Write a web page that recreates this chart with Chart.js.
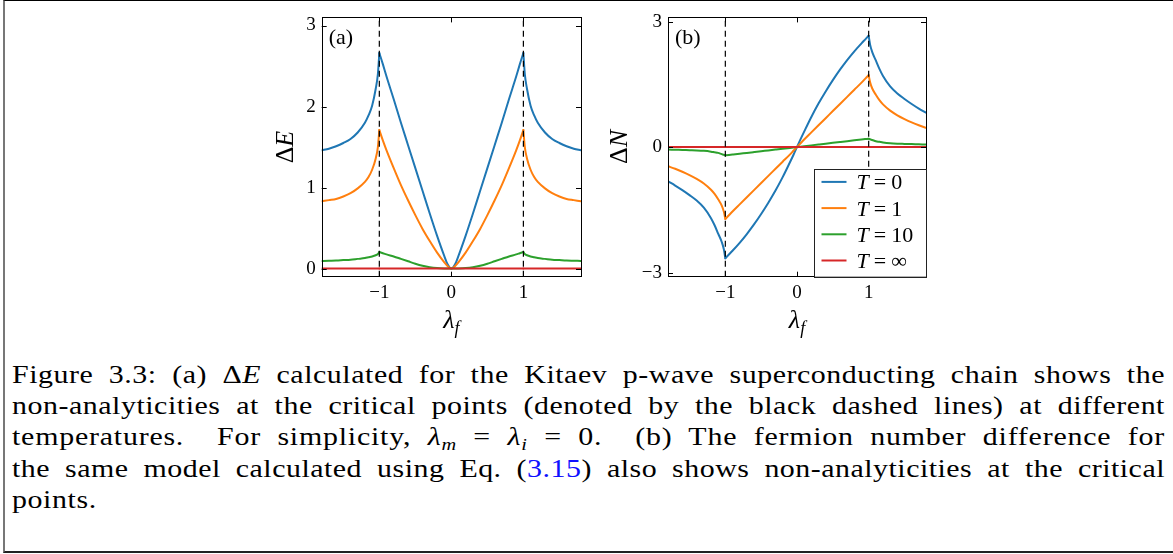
<!DOCTYPE html>
<html>
<head>
<meta charset="utf-8">
<script src="https://cdn.jsdelivr.net/npm/chart.js@4.4.1/dist/chart.umd.min.js"></script>
<style>
  html, body { margin: 0; padding: 0; background: #fff; }
  body { width: 1173px; height: 554px; position: relative; overflow: hidden; }
  #frame { position: absolute; left: 3px; top: 0; width: 1200px; height: 550px;
           border-top: 1px solid #000; border-left: 2px solid #777; border-bottom: 2px solid #222; }
  canvas { position: absolute; top: 0; }
  #caption { position: absolute; left: 12px; top: 359px; width: 1153px;
             font-family: "Liberation Serif", "Tinos", "Times New Roman", "DejaVu Serif", serif; font-size: 26px;
             line-height: 31.2px; color: #000; }
  .ln { height: 31.2px; text-align: left; text-align-last: left; transform-origin: 0 0; }
  .ln.just { text-align: justify; text-align-last: justify; }
  .sub { font-size: 0.68em; font-style: italic; position: relative; top: 0.28em; }
  .ref { color: #1010ff; }
</style>
</head>
<body>
<div id="frame"></div>
<canvas id="panelA" width="330" height="345" style="left:270px"></canvas>
<canvas id="panelB" width="346" height="345" style="left:600px"></canvas>
<div id="caption">
  <div class="ln"><span class="in">Figure 3.3: (a) Δ<i>E</i> calculated for the Kitaev p-wave superconducting chain shows the</span></div>
  <div class="ln"><span class="in">non-analyticities at the critical points (denoted by the black dashed lines) at different</span></div>
  <div class="ln"><span class="in">temperatures.&nbsp; For simplicity, <i>λ</i><span class="sub">m</span> = <i>λ</i><span class="sub">i</span> = 0.&nbsp; (b) The fermion number difference for</span></div>
  <div class="ln"><span class="in">the same model calculated using Eq. (<span class="ref">3.15</span>) also shows non-analyticities at the critical</span></div>
  <div class="ln last"><span class="in">points.</span></div>
</div>
<script>
// lambda_f samples (denser near the critical points)
const lambdaF = [-1.8, -1.7, -1.6, -1.5, -1.4, -1.3, -1.2, -1.15, -1.1, -1.05, -1.02, -1.0,
  -0.95, -0.9, -0.8, -0.7, -0.6, -0.5, -0.4, -0.3, -0.2, -0.1, -0.05, 0,
  0.05, 0.1, 0.2, 0.3, 0.4, 0.5, 0.6, 0.7, 0.8, 0.9, 0.95, 1.0,
  1.02, 1.05, 1.1, 1.15, 1.2, 1.3, 1.4, 1.5, 1.6, 1.7, 1.8];

// (a) Delta E
const dE_T0 = [1.46, 1.48, 1.51, 1.55, 1.60, 1.68, 1.80, 1.89, 2.01, 2.22, 2.40, 2.66,
  2.52, 2.37, 2.09, 1.80, 1.52, 1.24, 0.96, 0.68, 0.41, 0.16, 0.05, 0,
  0.05, 0.16, 0.41, 0.68, 0.96, 1.24, 1.52, 1.80, 2.09, 2.37, 2.52, 2.66,
  2.40, 2.22, 2.01, 1.89, 1.80, 1.68, 1.60, 1.55, 1.51, 1.48, 1.46];
const dE_T1 = [0.83, 0.845, 0.86, 0.89, 0.93, 0.99, 1.07, 1.13, 1.22, 1.36, 1.50, 1.71,
  1.58, 1.46, 1.24, 1.03, 0.84, 0.66, 0.49, 0.34, 0.20, 0.08, 0.03, 0,
  0.03, 0.08, 0.20, 0.34, 0.49, 0.66, 0.84, 1.03, 1.24, 1.46, 1.58, 1.71,
  1.50, 1.36, 1.22, 1.13, 1.07, 0.99, 0.93, 0.89, 0.86, 0.845, 0.83];
const dE_T10 = [0.094, 0.097, 0.10, 0.105, 0.11, 0.12, 0.13, 0.14, 0.15, 0.165, 0.18, 0.205,
  0.19, 0.175, 0.15, 0.12, 0.09, 0.06, 0.035, 0.017, 0.006, 0.001, 0, 0,
  0, 0.001, 0.006, 0.017, 0.035, 0.06, 0.09, 0.12, 0.15, 0.175, 0.19, 0.205,
  0.18, 0.165, 0.15, 0.14, 0.13, 0.12, 0.11, 0.105, 0.10, 0.097, 0.094];
const dE_Tinf = [0, 0, 0, 0, 0, 0, 0, 0, 0, 0, 0, 0, 0, 0, 0, 0, 0, 0, 0, 0, 0, 0, 0, 0,
  0, 0, 0, 0, 0, 0, 0, 0, 0, 0, 0, 0, 0, 0, 0, 0, 0, 0, 0, 0, 0, 0, 0];

// (b) Delta N
const dN_T0 = [-0.82, -0.92, -1.03, -1.15, -1.28, -1.45, -1.70, -1.87, -2.07, -2.27, -2.45, -2.66,
  -2.57, -2.48, -2.29, -2.08, -1.85, -1.60, -1.33, -1.04, -0.72, -0.37, -0.19, 0,
  0.19, 0.37, 0.72, 1.04, 1.33, 1.60, 1.85, 2.08, 2.29, 2.48, 2.57, 2.66,
  2.45, 2.27, 2.07, 1.87, 1.70, 1.45, 1.28, 1.15, 1.03, 0.92, 0.82];
const dN_T1 = [-0.46, -0.52, -0.59, -0.67, -0.76, -0.87, -1.02, -1.12, -1.25, -1.40, -1.55, -1.72,
  -1.63, -1.54, -1.37, -1.20, -1.03, -0.86, -0.69, -0.52, -0.35, -0.18, -0.09, 0,
  0.09, 0.18, 0.35, 0.52, 0.69, 0.86, 1.03, 1.20, 1.37, 1.54, 1.63, 1.72,
  1.55, 1.40, 1.25, 1.12, 1.02, 0.87, 0.76, 0.67, 0.59, 0.52, 0.46];
const dN_T10 = [-0.06, -0.065, -0.07, -0.075, -0.08, -0.09, -0.11, -0.125, -0.14, -0.17, -0.185, -0.20,
  -0.19, -0.18, -0.16, -0.14, -0.12, -0.10, -0.08, -0.06, -0.04, -0.02, -0.01, 0,
  0.01, 0.02, 0.04, 0.06, 0.08, 0.10, 0.12, 0.14, 0.16, 0.18, 0.19, 0.20,
  0.185, 0.17, 0.14, 0.125, 0.11, 0.09, 0.08, 0.075, 0.07, 0.065, 0.06];
const dN_Tinf = [0, 0, 0, 0, 0, 0, 0, 0, 0, 0, 0, 0, 0, 0, 0, 0, 0, 0, 0, 0, 0, 0, 0, 0,
  0, 0, 0, 0, 0, 0, 0, 0, 0, 0, 0, 0, 0, 0, 0, 0, 0, 0, 0, 0, 0, 0, 0];

const temperatures = ['0', '1', '10', '\u221E'];
const criticalPoints = [-1, 1];
const xTicks = [-1, 0, 1];
const dETicks = [0, 1, 2, 3];
const dNTicks = [-3, 0, 3];
const xRange = [-1.8, 1.8];
const dERange = [-0.1, 3.1];
const dNRange = [-3.1, 3.1];

const colors = ['#1f77b4', '#ff7f0e', '#2ca02c', '#d62728'];
const SERIF = '"Liberation Serif", "Tinos", "Times New Roman", "DejaVu Serif", serif';

function minusFmt(v) {
  return v < 0 ? '\u2212' + Math.abs(v) : String(v);
}

// draw a row of text pieces: [text, font, dy, gapAfter]
function drawRuns(ctx, parts, x, y, align) {
  let w = 0;
  parts.forEach(p => { ctx.font = p[1]; w += ctx.measureText(p[0]).width + (p[3] || 0); });
  let cx = align === 'center' ? x - w / 2 : (align === 'right' ? x - w : x);
  parts.forEach(p => {
    ctx.font = p[1];
    ctx.fillText(p[0], cx, y + (p[2] || 0));
    cx += ctx.measureText(p[0]).width + (p[3] || 0);
  });
}

const framePlugin = {
  id: 'frame',
  afterDraw(chart, args, o) {
    const { ctx, chartArea: a, scales: { x, y } } = chart;
    ctx.save();
    ctx.strokeStyle = '#000';
    ctx.lineWidth = 1;
    ctx.strokeRect(Math.round(a.left) + 0.5, Math.round(a.top) + 0.5,
      Math.round(a.right - a.left), Math.round(a.bottom - a.top));

    // inward ticks on all four sides
    ctx.beginPath();
    xTicks.forEach(v => {
      const px = Math.round(x.getPixelForValue(v)) + 0.5;
      ctx.moveTo(px, a.bottom); ctx.lineTo(px, a.bottom - 5);
      ctx.moveTo(px, a.top); ctx.lineTo(px, a.top + 5);
    });
    o.yTicks.forEach(v => {
      const py = Math.round(y.getPixelForValue(v)) + 0.5;
      ctx.moveTo(a.left, py); ctx.lineTo(a.left + 5, py);
      ctx.moveTo(a.right, py); ctx.lineTo(a.right - 5, py);
    });
    ctx.stroke();

    ctx.fillStyle = '#000';
    ctx.textBaseline = 'alphabetic';

    // panel tag
    ctx.font = '22px ' + SERIF;
    ctx.fillText(o.tag, a.left + 7, a.top + 27);

    // x title
    drawRuns(ctx, [['\u03BB', 'italic 26px ' + SERIF], ['f', 'italic 18px ' + SERIF, 6]],
      (a.left + a.right) / 2, 328, 'center');

    // y title, rotated
    ctx.save();
    ctx.translate(o.yTitleX, (a.top + a.bottom) / 2);
    ctx.rotate(-Math.PI / 2);
    drawRuns(ctx, [['\u0394', '26px ' + SERIF], [o.yTitle, 'italic 26px ' + SERIF]], 0, 0, 'center');
    ctx.restore();

    // legend box in the lower right corner
    if (o.legend) {
      const bw = 112, bh = 107.5;
      const bx = a.right - bw, by = a.bottom - bh;
      ctx.fillStyle = '#fff';
      ctx.fillRect(bx, by, bw, bh);
      ctx.strokeStyle = '#222';
      ctx.strokeRect(Math.round(bx) + 0.5, Math.round(by) + 0.5, Math.round(bw), Math.round(bh));
      temperatures.forEach((t, i) => {
        const ry = by + 12.7 + i * 26.2;
        ctx.strokeStyle = colors[i];
        ctx.lineWidth = 2;
        ctx.beginPath();
        ctx.moveTo(bx + 7.5, ry); ctx.lineTo(bx + 32.5, ry);
        ctx.stroke();
        ctx.fillStyle = '#000';
        drawRuns(ctx, [['T', 'italic 22px ' + SERIF, 0, 5], ['=', '22px ' + SERIF, 0, 5],
          [t, '22px ' + SERIF]], bx + 42.5, ry + 7.5, 'left');
      });
    }
    ctx.restore();
  }
};

// split one series at the critical points so each smooth piece keeps its own cusp ends
function pieces(ys) {
  const pts = lambdaF.map((l, k) => ({ x: l, y: ys[k] }));
  const cuts = [lambdaF[0], ...criticalPoints, lambdaF[lambdaF.length - 1]];
  const out = [];
  for (let s = 0; s < cuts.length - 1; s++) {
    out.push(pts.filter(p => p.x >= cuts[s] && p.x <= cuts[s + 1]));
  }
  return out;
}

function makePanel(id, series, yTicks, yRange, cfg) {
  const datasets = [];
  criticalPoints.forEach(c => {
    datasets.push({
      data: [{ x: c, y: yRange[0] }, { x: c, y: yRange[1] }],
      borderColor: '#000', borderWidth: 1.2, borderDash: [6, 4],
      pointRadius: 0, order: 0
    });
  });
  series.forEach((ys, i) => {
    pieces(ys).forEach(seg => {
      datasets.push({
        data: seg,
        borderColor: colors[i], borderWidth: 2, pointRadius: 0,
        cubicInterpolationMode: 'monotone', borderCapStyle: 'round',
        order: 4 - i
      });
    });
  });

  const tickFont = { family: SERIF, size: 19 };
  return new Chart(document.getElementById(id), {
    type: 'line',
    data: { datasets },
    options: {
      responsive: false,
      animation: false,
      devicePixelRatio: 1,
      layout: { padding: { left: 0, right: cfg.padRight, top: 16.7, bottom: 0 } },
      plugins: {
        legend: { display: false },
        tooltip: { enabled: false },
        frame: { yTicks, tag: cfg.tag, yTitle: cfg.yTitle, yTitleX: cfg.yTitleX, legend: cfg.legend }
      },
      scales: {
        x: {
          type: 'linear', min: xRange[0], max: xRange[1],
          grid: { display: false, drawTicks: false },
          border: { display: false },
          ticks: { color: '#000', font: tickFont, padding: 5, autoSkip: false, maxRotation: 0,
                   callback: minusFmt },
          afterBuildTicks: s => { s.ticks = xTicks.map(v => ({ value: v })); },
          afterFit: s => { s.height = 68.3; }
        },
        y: {
          type: 'linear', min: yRange[0], max: yRange[1],
          grid: { display: false, drawTicks: false },
          border: { display: false },
          ticks: { color: '#000', font: tickFont, padding: 6, autoSkip: false,
                   callback: minusFmt },
          afterBuildTicks: s => { s.ticks = yTicks.map(v => ({ value: v })); },
          afterFit: s => { s.width = cfg.axisWidth; }
        }
      }
    },
    plugins: [framePlugin]
  });
}

makePanel('panelA', [dE_T0, dE_T1, dE_T10, dE_Tinf], dETicks, dERange,
  { padRight: 19, axisWidth: 51.7, tag: '(a)', yTitle: 'E', yTitleX: 23, legend: false });
makePanel('panelB', [dN_T0, dN_T1, dN_T10, dN_Tinf], dNTicks, dNRange,
  { padRight: 20, axisWidth: 68, tag: '(b)', yTitle: 'N', yTitleX: 27, legend: true });

// The caption serif is narrower than the original's: stretch each line a little,
// add some letter spacing, and justify the full lines so the spaces take the rest.
const capLines = [...document.querySelectorAll('#caption .ln')];
const colW = 1153;
let sSum = 0, lsSum = 0, nFull = 0;
capLines.forEach(ln => {
  if (ln.classList.contains('last')) return;
  const inner = ln.querySelector('.in');
  const w = inner.getBoundingClientRect().width;
  const s = Math.min(1.15, (colW - 3) / w);
  const ls = ((colW - 3) / s - w) * 0.35 / inner.textContent.length;
  ln.style.width = (colW / s) + 'px';
  ln.style.transform = 'scaleX(' + s + ')';
  inner.style.letterSpacing = ls + 'px';
  ln.classList.add('just');
  sSum += s; lsSum += ls; nFull++;
});
const lastLn = capLines[capLines.length - 1];
lastLn.style.transform = 'scaleX(' + (sSum / nFull) + ')';
lastLn.querySelector('.in').style.letterSpacing = (lsSum / nFull) + 'px';
</script>
</body>
</html>
